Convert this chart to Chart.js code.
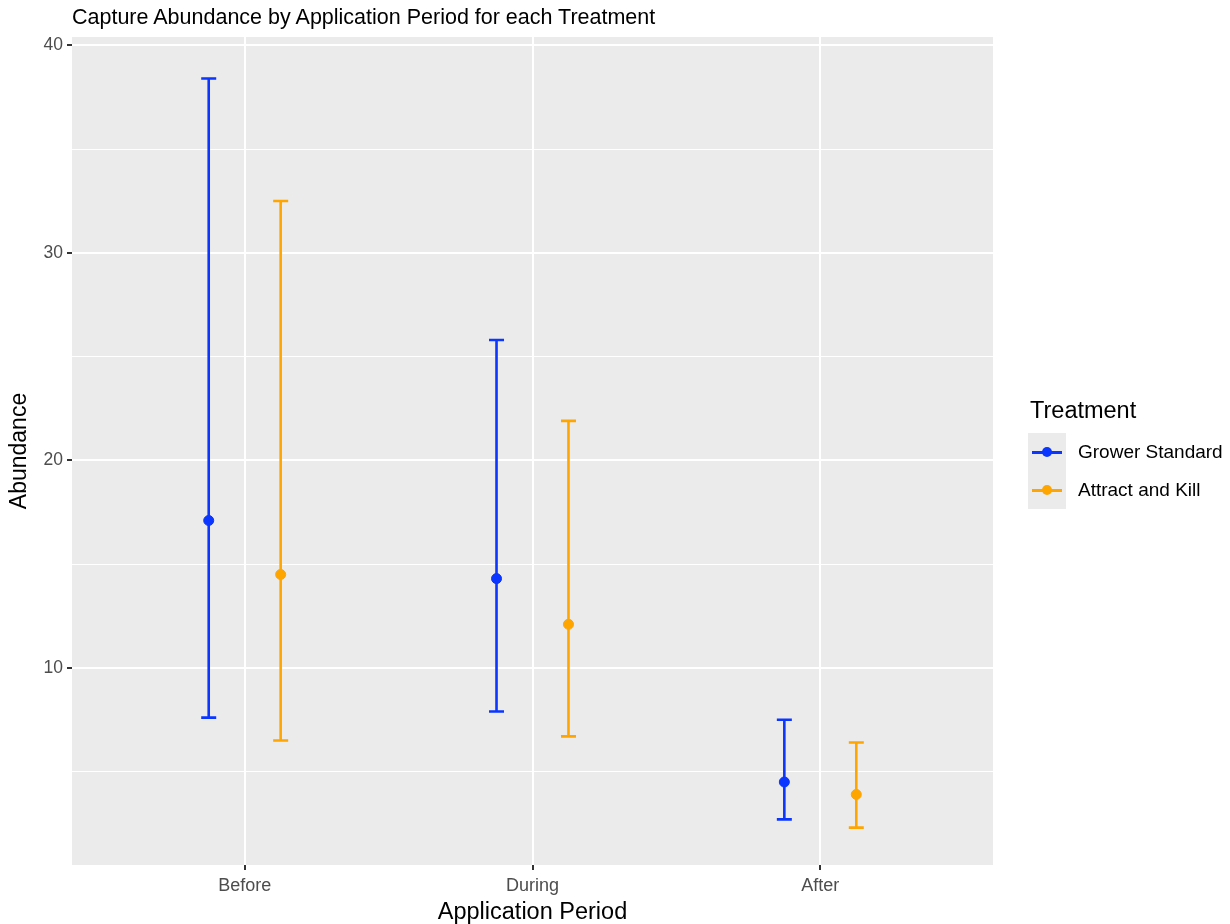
<!DOCTYPE html>
<html>
<head>
<meta charset="utf-8">
<script src="https://cdn.jsdelivr.net/npm/chart.js@4/dist/chart.umd.min.js"></script>
<style>
  body { margin: 0; background: #fff; font-family: "Liberation Sans", Arial, sans-serif; }
  #wrap { position: relative; width: 1230px; height: 924px; }
  #title { position: absolute; left: 72px; top: 5px; font-size: 21.5px; color: #000; }
  #legend { position: absolute; left: 1028px; top: 397px; color: #000; }
  #legend .lt { font-size: 23.5px; margin-bottom: 9px; margin-left: 2px; }
  #legend .row { display: flex; align-items: center; height: 38px; }
  #legend .key { width: 38px; height: 38px; background: #ebebeb; position: relative; }
  #legend .key .ln { position: absolute; left: 4px; right: 4px; top: 18px; height: 2.5px; }
  #legend .key .pt { position: absolute; left: 14px; top: 14px; width: 10px; height: 10px; border-radius: 50%; }
  #legend .lab { font-size: 19px; margin-left: 12px; }
</style>
</head>
<body>
<div id="wrap">
  <canvas id="chart" width="1230" height="924"></canvas>
  <div id="title">Capture Abundance by Application Period for each Treatment</div>
  <div id="legend"></div>
</div>
<script>
// Categories and series
const periods = ["Before", "During", "After"];
const treatments = ["Grower Standard", "Attract and Kill"];
const colors = ["#0a36ff", "#ffa500"];

// Means and interval bounds, per period
const growerMean = [17.1, 14.3, 4.5];
const growerLow = [7.6, 7.9, 2.7];
const growerHigh = [38.4, 25.8, 7.5];

const killMean = [14.5, 12.1, 3.9];
const killLow = [6.5, 6.7, 2.3];
const killHigh = [32.5, 21.9, 6.4];

const yTicks = [10, 20, 30, 40];

const dodge = [-0.125, 0.125];
const series = [
    { mean: growerMean, low: growerLow, high: growerHigh },
    { mean: killMean, low: killLow, high: killHigh },
];

// Build datasets from the arrays
const datasets = series.map((s, i) => ({
    label: treatments[i],
    data: s.mean.map((m, j) => ({ x: j + 1 + dodge[i], y: m, lo: s.low[j], hi: s.high[j] })),
    backgroundColor: colors[i],
    borderColor: colors[i],
    pointRadius: 5,
    pointHoverRadius: 5,
    showLine: false,
}));

// Grey panel background
const panelBg = {
    id: "panelBg",
    beforeDraw(chart) {
        const { ctx, chartArea: a } = chart;
        ctx.save();
        ctx.fillStyle = "#ebebeb";
        ctx.fillRect(a.left, a.top, a.right - a.left, a.bottom - a.top);
        ctx.restore();
    },
};

// Error bars drawn through the scales
const errorBars = {
    id: "errorBars",
    beforeDatasetsDraw(chart) {
        const { ctx, scales } = chart;
        const xs = scales.x, ys = scales.y;
        const cap = 7.5;
        ctx.save();
        ctx.lineWidth = 2.6;
        chart.data.datasets.forEach((ds) => {
            ctx.strokeStyle = ds.borderColor;
            ds.data.forEach((d) => {
                const px = xs.getPixelForValue(d.x);
                const top = ys.getPixelForValue(d.hi);
                const bot = ys.getPixelForValue(d.lo);
                ctx.beginPath();
                ctx.moveTo(px, top); ctx.lineTo(px, bot);
                ctx.moveTo(px - cap, top); ctx.lineTo(px + cap, top);
                ctx.moveTo(px - cap, bot); ctx.lineTo(px + cap, bot);
                ctx.stroke();
            });
        });
        ctx.restore();
    },
};

const font = { family: "'Liberation Sans', Arial, sans-serif" };

new Chart(document.getElementById("chart"), {
    type: "scatter",
    data: { datasets },
    options: {
        responsive: false,
        animation: false,
        layout: { padding: { top: 37, right: 237, left: 0, bottom: 0 } },
        plugins: { legend: { display: false }, tooltip: { enabled: false } },
        scales: {
            x: {
                type: "linear",
                min: 0.4,
                max: 3.6,
                afterBuildTicks: (s) => { s.ticks = periods.map((p, i) => ({ value: i + 1 })); },
                afterFit: (s) => { s.height = 59; },
                ticks: {
                    callback: (v) => periods[Math.round(v) - 1],
                    color: "#4d4d4d",
                    font: { ...font, size: 18 },
                    padding: 5,
                    maxRotation: 0,
                    autoSkip: false,
                },
                grid: { color: "#ffffff", lineWidth: 2, tickColor: "#333333", tickLength: 5, drawTicks: true },
                border: { display: false },
                title: { display: true, text: "Application Period", color: "#000", font: { ...font, size: 23.5 }, padding: { top: 0, bottom: -3 } },
            },
            y: {
                min: 0.5,
                max: 40.4,
                afterBuildTicks: (s) => { s.ticks = [5, 10, 15, 20, 25, 30, 35, 40].map((v) => ({ value: v })); },
                afterFit: (s) => { s.width = 72; },
                ticks: {
                    callback: (v) => (yTicks.includes(v) ? String(v) : ""),
                    color: "#4d4d4d",
                    font: { ...font, size: 17.5 },
                    padding: 4,
                },
                grid: {
                    color: "#ffffff",
                    lineWidth: (c) => (c.tick && c.tick.value % 10 === 0 ? 2 : 1),
                    tickColor: (c) => (c.tick && c.tick.value % 10 === 0 ? "#333333" : "rgba(0,0,0,0)"),
                    tickLength: 5,
                },
                border: { display: false },
                title: { display: true, text: "Abundance", color: "#000", font: { ...font, size: 23 }, padding: { top: 6, bottom: -4 } },
            },
        },
    },
    plugins: [panelBg, errorBars],
});

// Legend
const legend = document.getElementById("legend");
legend.innerHTML = '<div class="lt">Treatment</div>' + treatments.map((t, i) =>
    `<div class="row"><div class="key"><div class="ln" style="background:${colors[i]}"></div>` +
    `<div class="pt" style="background:${colors[i]}"></div></div><div class="lab">${t}</div></div>`
).join("");
</script>
</body>
</html>
